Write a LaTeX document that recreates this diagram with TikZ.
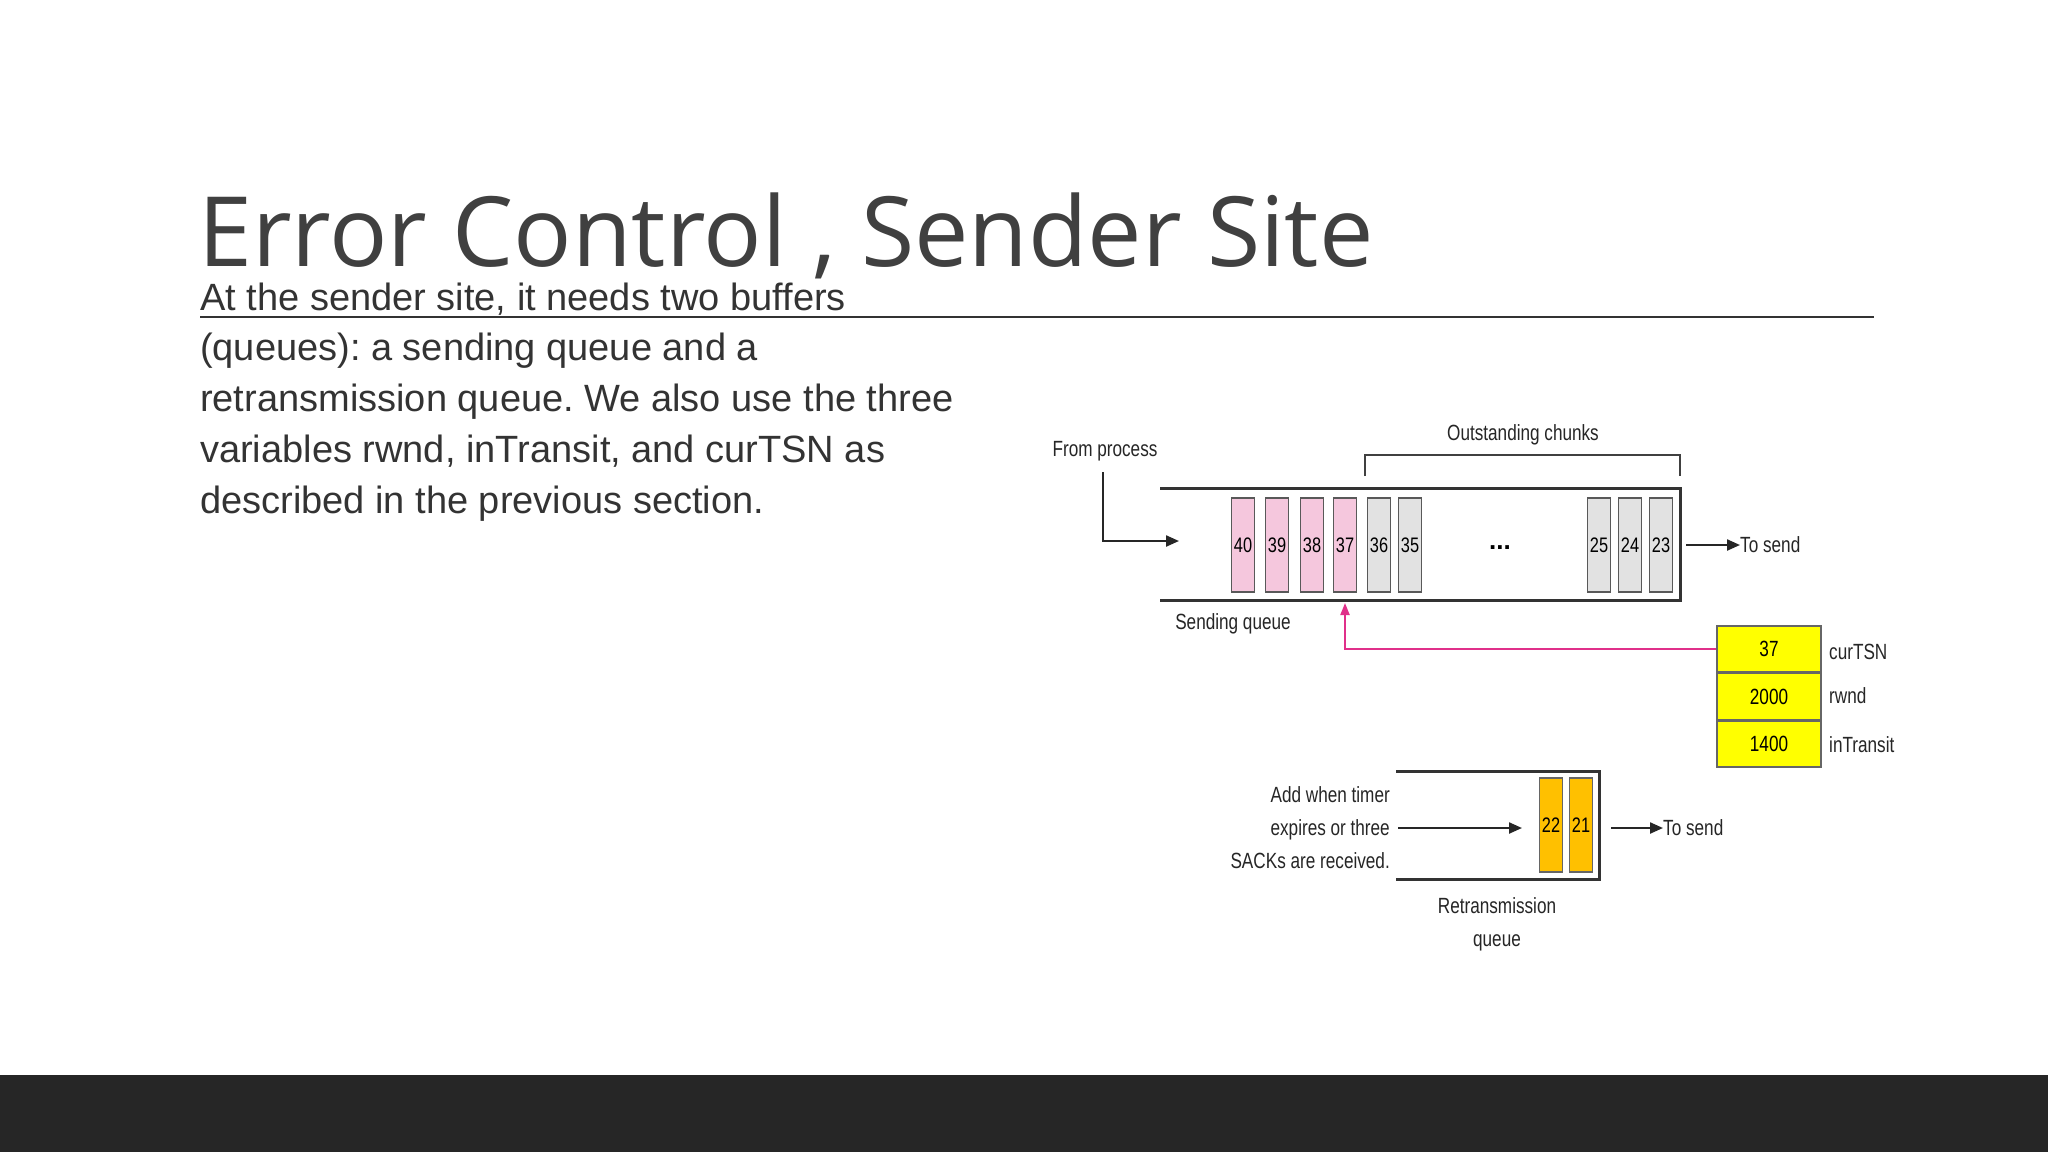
\documentclass[tikz,border=0pt]{standalone}
\usepackage{fontspec}
\setmainfont{Liberation Sans}
\newfontfamily\titlefont{Open Sans}
\newfontfamily\cond[FakeStretch=0.78]{Liberation Sans}
\usetikzlibrary{arrows.meta,positioning}
\frenchspacing
\definecolor{txt}{HTML}{333333}
\definecolor{pinkc}{HTML}{F5C7DD}
\definecolor{grayc}{HTML}{E2E2E2}
\definecolor{yel}{HTML}{FFFF00}
\definecolor{org}{HTML}{FFC000}
\definecolor{mag}{HTML}{E0308A}
\tikzset{
  lbl/.style={font=\cond\fontsize{22}{24}\selectfont, text=black!85, inner sep=0},
  cell/.style={draw=black!65, line width=1.5pt, minimum width=23pt, minimum height=94pt, inner sep=0, font=\cond\fontsize{21}{22}\selectfont},
  pcell/.style={cell, fill=pinkc},
  gcell/.style={cell, fill=grayc},
  ocell/.style={cell, fill=org, draw=black!60},
  ybox/.style={draw=black!60, line width=1.5pt, fill=yel, minimum width=104pt, minimum height=46pt, inner sep=0, font=\cond\fontsize{22}{24}\selectfont},
  wall/.style={line width=3pt, black!80},
  arr/.style={line width=2.2pt, -{Triangle[length=13pt,width=11pt]}, black!85}
}
\begin{document}
\begin{tikzpicture}[x=1pt,y=-1pt]
\useasboundingbox (0,0) rectangle (2048,1152);
\fill[white] (0,0) rectangle (2048,1152);
\fill[black!85] (0,1075) rectangle (2048,1152);
\node[anchor=base west, inner sep=0, text=black!75, font=\titlefont\fontsize{97}{110}\selectfont] (title) at (198,266) {Error Control , Sender Site};
\draw[black!80, line width=1.5pt] (200,317) coordinate (r1) -- (1874,317) coordinate (r2);
\node[anchor=base west, inner sep=0, text=txt, align=left, font=\fontsize{38}{50.7}\selectfont] (body) at (200,513)
{At the sender site, it needs two buffers\\(queues): a sending queue and a\\retransmission queue. We also use the three\\variables rwnd, inTransit, and curTSN as\\described in the previous section.};
% sending queue
\draw[wall] (1160,488) -- (1680,488) -- (1680,600) -- (1160,600);
\foreach \n/\x in {40/1243,39/1277,38/1312,37/1345}{\node[pcell] (c\n) at (\x,545) {\n};}
\foreach \n/\x in {36/1379,35/1410,25/1599,24/1630,23/1661}{\node[gcell] (c\n) at (\x,545) {\n};}
\node[font=\fontsize{26}{26}\selectfont\bfseries, inner sep=0] (dots) at (1500,548) {...};
\node[lbl, anchor=base] (fp) at (1105,456) {From process};
\coordinate (fpa) at (1103,472);
\coordinate (fpb) at (1103,541);
\coordinate (fpc) at (1179,541);
\draw[arr] (fpa) -- (fpb) -- (fpc);
\coordinate (s1) at (1686,545);
\node[lbl, anchor=west] (ts1) at (1740,545) {To send};
\draw[arr] (s1) -- (ts1.west);
\draw[black!75, line width=1.5pt] (1365,476) -- (1365,455) -- (1680,455) -- (1680,476);
\node[lbl, anchor=base] (oc) at (1523,440) {Outstanding chunks};
\node[lbl, anchor=base] (sq) at (1233,629) {Sending queue};
% variables
\node[ybox] (v1) at (1769,649) {37};
\node[ybox, below=0pt of v1] (v2) {2000};
\node[ybox, below=0pt of v2] (v3) {1400};
\node[lbl, anchor=west] (n1) at (1829,652) {curTSN};
\node[lbl, anchor=west] (n2) at (1829,696) {rwnd};
\node[lbl, anchor=west] (n3) at (1829,745) {inTransit};
\draw[mag, line width=2pt, -{Triangle[length=12pt,width=9pt]}] (v1.west) -| (c37.south |- 0,603);
% retransmission queue
\draw[wall] (1396,771) -- (1599,771) -- (1599,879) -- (1396,879);
\node[ocell] (c22) at (1551,825) {22};
\node[ocell] (c21) at (1581,825) {21};
\node[lbl, anchor=east, align=right, font=\cond\fontsize{22}{33}\selectfont] (add) at (1390,828) {Add when timer\\expires or three\\SACKs are received.};
\coordinate (ra) at (1398,828);
\coordinate (rb) at (1522,828);
\draw[arr] (ra) -- (rb);
\coordinate (s2) at (1611,828);
\node[lbl, anchor=west] (ts2) at (1663,828) {To send};
\draw[arr] (s2) -- (ts2.west);
\node[lbl, align=center, font=\cond\fontsize{22}{33}\selectfont] (rq) at (1497,924) {Retransmission\\queue};
\end{tikzpicture}
\end{document}
